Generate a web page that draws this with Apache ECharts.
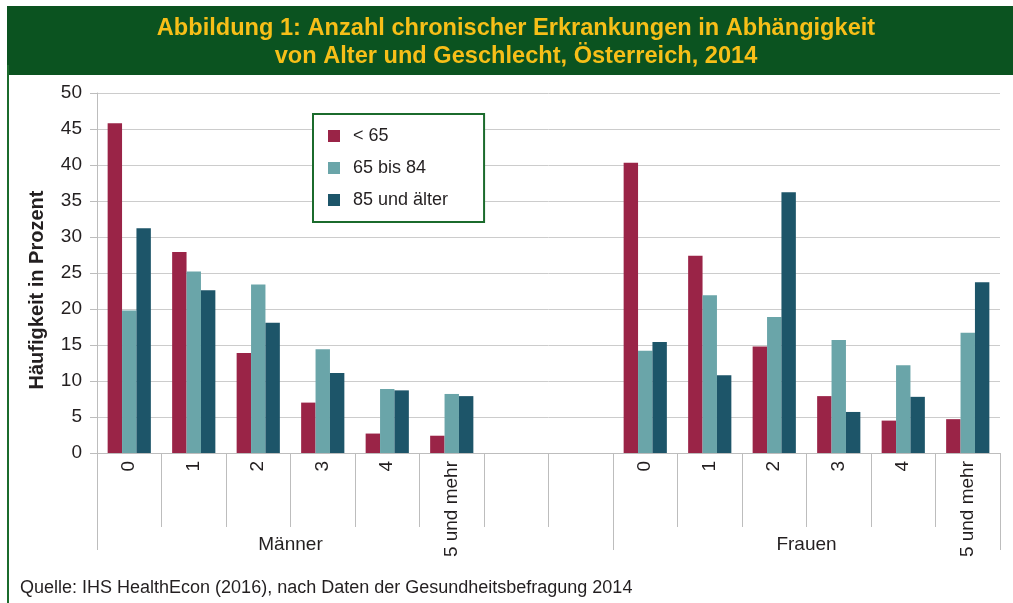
<!DOCTYPE html>
<html>
<head>
<meta charset="utf-8">
<script src="https://cdn.jsdelivr.net/npm/echarts@6/dist/echarts.min.js"></script>
<style>
  html, body { margin: 0; padding: 0; background: #fff; }
  #chart-container { width: 1013px; height: 603px; }
</style>
</head>
<body>
<div id="chart-container"></div>
<script>
var dom = document.getElementById('chart-container');
var myChart = echarts.init(dom, null, { renderer: 'canvas' });

// categories: Männer 0..5+, two empty slots, Frauen 0..5+
const categories = ['0', '1', '2', '3', '4', '5 und mehr', '', '', '0', '1', '2', '3', '4', '5 und mehr'];
// group axis points (15 boundaries), labels in the middle of each group
const groups = ['', '', '', 'Männer', '', '', '', '', '', '', '', 'Frauen', '', '', ''];
const seriesNames = ['< 65', '65 bis 84', '85 und älter'];

const under65 = [45.8, 27.9, 13.9, 7.0, 2.7, 2.4, null, null, 40.3, 27.4, 14.8, 7.9, 4.5, 4.7];
const from65to84 = [19.8, 25.2, 23.4, 14.4, 8.9, 8.2, null, null, 14.2, 21.9, 18.9, 15.7, 12.2, 16.7];
const over85 = [31.2, 22.6, 18.1, 11.1, 8.7, 7.9, null, null, 15.4, 10.8, 36.2, 5.7, 7.8, 23.7];

const colors = ['#9a2447', '#6aa5a9', '#1d5569'];
const fontFamily = '"Liberation Sans", Arial, Helvetica, sans-serif';
const gridColor = '#cccccc';

var option = {
    animation: false,
    color: colors,
    textStyle: { fontFamily: fontFamily },
    graphic: [
        {
            type: 'rect',
            shape: { x: 7, y: 6, width: 1006, height: 69 },
            style: { fill: '#0b5320' },
            z: -1
        },
        {
            type: 'rect',
            shape: { x: 7, y: 65, width: 2, height: 538 },
            style: { fill: '#1b6b2c' },
            z: -1
        }
    ],
    title: [
        {
            text: 'Abbildung 1: Anzahl chronischer Erkrankungen in Abhängigkeit\nvon Alter und Geschlecht, Österreich, 2014',
            left: 516,
            top: 14,
            padding: 0,
            textAlign: 'center',
            textStyle: {
                color: '#f7bf18',
                fontSize: 23.6,
                fontWeight: 'bold',
                lineHeight: 28,
                fontFamily: fontFamily
            }
        },
        {
            text: 'Quelle: IHS HealthEcon (2016), nach Daten der Gesundheitsbefragung 2014',
            left: 20,
            top: 579,
            padding: 0,
            textStyle: {
                color: '#231f20',
                fontSize: 18,
                fontWeight: 'normal',
                fontFamily: fontFamily
            }
        }
    ],
    legend: {
        orient: 'vertical',
        left: 313,
        top: 114,
        padding: [13, 36, 13, 15],
        itemGap: 14,
        itemWidth: 12,
        itemHeight: 12,
        icon: 'rect',
        selectedMode: false,
        borderColor: '#1b6b2c',
        borderWidth: 2,
        backgroundColor: '#fff',
        data: seriesNames,
        textStyle: { fontSize: 18, color: '#231f20', padding: [0, 0, 0, 8] }
    },
    grid: {
        left: 97,
        right: 13,
        top: 93,
        bottom: 150,
        containLabel: false
    },
    xAxis: [
        {
            type: 'category',
            data: categories,
            position: 'bottom',
            axisLine: { lineStyle: { color: '#bdbdbd' } },
            axisTick: { show: true, length: 74, lineStyle: { color: '#bdbdbd' } },
            axisLabel: {
                interval: 0,
                rotate: 90,
                margin: 8,
                fontSize: 19,
                color: '#231f20'
            }
        },
        {
            type: 'category',
            data: groups,
            position: 'bottom',
            boundaryGap: false,
            axisLine: { show: false },
            axisTick: {
                show: true,
                length: 97,
                interval: function (index) {
                    return index === 0 || index === 8 || index === 14;
                },
                lineStyle: { color: '#bdbdbd' }
            },
            axisLabel: {
                interval: 0,
                margin: 82,
                fontSize: 19,
                color: '#231f20'
            },
            splitLine: { show: false }
        }
    ],
    yAxis: {
        type: 'value',
        min: 0,
        max: 50,
        interval: 5,
        name: 'Häufigkeit in Prozent',
        nameLocation: 'middle',
        nameGap: 50,
        nameMoveOverlap: false,
        nameTextStyle: {
            fontSize: 20,
            fontWeight: 'bold',
            color: '#231f20',
            padding: [0, 34, 0, 0]
        },
        axisLine: { show: true, lineStyle: { color: '#bdbdbd' } },
        axisTick: { show: true, length: 7, lineStyle: { color: '#bdbdbd' } },
        axisLabel: { fontSize: 19, color: '#231f20', margin: 15 },
        splitLine: { lineStyle: { color: gridColor } }
    },
    series: [
        {
            name: seriesNames[0],
            type: 'bar',
            xAxisIndex: 0,
            barGap: '0%',
            barCategoryGap: '33%',
            data: under65
        },
        {
            name: seriesNames[1],
            type: 'bar',
            xAxisIndex: 0,
            barGap: '0%',
            barCategoryGap: '33%',
            data: from65to84
        },
        {
            name: seriesNames[2],
            type: 'bar',
            xAxisIndex: 0,
            barGap: '0%',
            barCategoryGap: '33%',
            data: over85
        }
    ]
};

myChart.setOption(option);
</script>
</body>
</html>
